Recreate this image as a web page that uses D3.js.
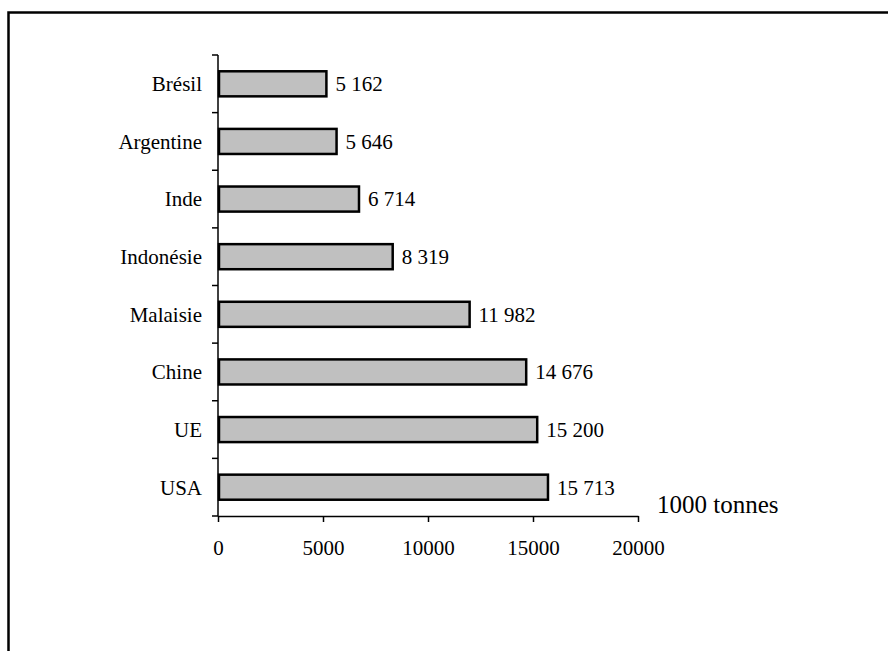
<!DOCTYPE html>
<html>
<head>
<meta charset="utf-8">
<script src="https://cdn.jsdelivr.net/npm/d3@7"></script>
<style>
  html, body { margin: 0; padding: 0; background: #fff; }
</style>
</head>
<body>
<svg></svg>
<script>
// production, 1000 tonnes
let countries = ["Brésil", "Argentine", "Inde", "Indonésie", "Malaisie", "Chine", "UE", "USA"]
let values = [5162, 5646, 6714, 8319, 11982, 14676, 15200, 15713]
let xTicks = [0, 5000, 10000, 15000, 20000]
let unitLabel = "1000 tonnes"

let serif = "'Liberation Serif', 'Times New Roman', Times, 'DejaVu Serif', serif"

let svgWidth = 888,
    svgHeight = 651

let margin = {left: 218, top: 55}

let svg = d3.select('svg')
    .attr('width', svgWidth)
    .attr('height', svgHeight)
    .style('font-family', serif)

// FRAME AROUND CHART (runs off the page right and bottom)
svg.append('rect')
    .attr('x', 8.5)
    .attr('y', 12.5)
    .attr('width', 900)
    .attr('height', 700)
    .attr('fill', 'none')
    .attr('stroke', '#000')
    .attr('stroke-width', 2.5)

let x = d3.scaleLinear()
    .domain([0, 20000])
    .range([margin.left, margin.left + 420])

let y = d3.scaleBand()
    .domain(countries)
    .range([margin.top, 516])
    .paddingInner(0.565)
    .paddingOuter(0.2825)

let fr = d3.formatLocale({thousands: "\u00a0", grouping: [3], decimal: ","}).format(",d")

let data = countries.map((c, i) => ({country: c, value: values[i]}))

// BARS
svg.selectAll('.bar')
    .data(data)
    .enter()
    .append('rect')
    .attr('class', 'bar')
    .attr('x', x(0) + 1)
    .attr('y', d => y(d.country))
    .attr('width', d => x(d.value) - x(0) - 1)
    .attr('height', y.bandwidth())
    .attr('fill', '#c0c0c0')
    .attr('stroke', '#000')
    .attr('stroke-width', 2.5)

// VALUE LABELS
svg.selectAll('.val')
    .data(data)
    .enter()
    .append('text')
    .attr('class', 'val')
    .attr('x', d => x(d.value) + 9)
    .attr('y', d => y(d.country) + y.bandwidth() / 2)
    .attr('dy', '0.35em')
    .attr('font-family', serif)
    .attr('font-size', 21)
    .text(d => fr(d.value))

// Y AXIS: line + ticks on band boundaries
let [y0, y1] = y.range()
let boundaries = countries.map(c => y(c) - y.step() * y.paddingInner() / 2)
boundaries.push(y1)

svg.append('line')
    .attr('x1', x(0)).attr('x2', x(0))
    .attr('y1', y0).attr('y2', y1)
    .attr('stroke', '#000').attr('stroke-width', 1.5)

svg.selectAll('.ytick')
    .data(boundaries)
    .enter()
    .append('line')
    .attr('x1', x(0) - 6).attr('x2', x(0))
    .attr('y1', d => d).attr('y2', d => d)
    .attr('stroke', '#000').attr('stroke-width', 1.5)

svg.selectAll('.cat')
    .data(countries)
    .enter()
    .append('text')
    .attr('x', x(0) - 16)
    .attr('y', d => y(d) + y.bandwidth() / 2)
    .attr('dy', '0.35em')
    .attr('text-anchor', 'end')
    .attr('font-family', serif)
    .attr('font-size', 21)
    .text(d => d)

// X AXIS
let xAxis = d3.axisBottom(x)
    .tickValues(xTicks)
    .tickSize(6)
    .tickSizeOuter(0)
    .tickPadding(18)
    .tickFormat(d3.format('d'))

let gx = svg.append('g')
    .attr('transform', `translate(0, ${y1})`)
    .call(xAxis)
    .attr('font-family', serif)
    .attr('font-size', 21)

gx.select('.domain').attr('stroke', '#000').attr('stroke-width', 1.5)
gx.selectAll('.tick line').attr('stroke', '#000').attr('stroke-width', 1.5)
gx.selectAll('.tick text').attr('fill', '#000')

// UNIT LABEL
svg.append('text')
    .attr('x', 657)
    .attr('y', 513)
    .attr('font-family', serif)
    .attr('font-size', 25)
    .text(unitLabel)
</script>
</body>
</html>
